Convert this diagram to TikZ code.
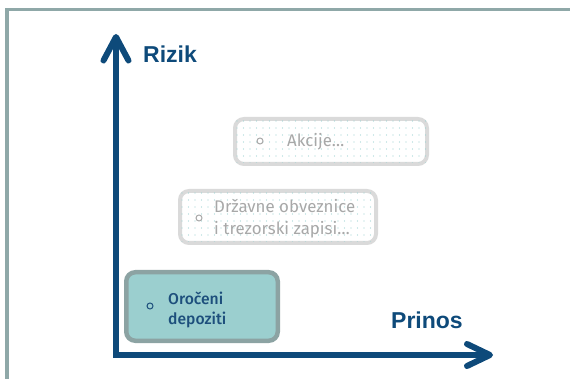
\documentclass[tikz,border=0pt]{standalone}
\usepackage{fontspec}
\usetikzlibrary{calc}
\newfontfamily\axfont{Liberation Sans}
\newfontfamily\boxreg{Fira Sans}
\IfFontExistsTF{Fira Sans Medium}{\newfontfamily\boxmed{Fira Sans Medium}}{\newfontfamily\boxmed{Fira Sans}[FakeBold=1]}
\newlength\tmpw
\definecolor{axisblue}{HTML}{0E4A7A}
\definecolor{framegrey}{HTML}{8FA8A8}
\definecolor{depfill}{HTML}{9BCFCF}
\definecolor{depborder}{HTML}{8CA3A3}
\definecolor{ghostborder}{HTML}{DADADA}
\definecolor{ghosttext}{HTML}{A8A8A8}
\definecolor{dotteal}{HTML}{9ED3D3}
\definecolor{deptext}{HTML}{1D4F7C}
\tikzset{
  depbox/.style={draw=depborder, fill=depfill, line width=4.5pt, rounded corners=9pt, minimum width=151.5pt, minimum height=68.5pt, inner sep=0},
  ghostbox/.style={draw=ghostborder, fill=white, line width=4pt, rounded corners=9pt, inner sep=0},
  bulletmark/.style={circle, minimum size=6pt, inner sep=0, line width=1pt},
  boxtext/.style={inner sep=0, align=left, anchor=base west},
  axisline/.style={draw=axisblue, line width=6pt},
  axislabel/.style={inner sep=0, anchor=base west, text=axisblue, font=\axfont\bfseries\fontsize{23}{27}\selectfont},
}
\AtBeginDocument{%
  \settowidth\tmpw{\boxreg\fontsize{10}{12}\selectfont Državne obveznice}%
  \pgfmathsetmacro\regsize{10*141/\tmpw}%
  \global\let\regsize\regsize
  \settowidth\tmpw{\boxmed\fontsize{10}{12}\selectfont Oročeni}%
  \pgfmathsetmacro\medsize{10*55/\tmpw}%
  \global\let\medsize\medsize
}
\begin{document}
\begin{tikzpicture}[x=1pt, y=-1pt]
\useasboundingbox (0,0) rectangle (570,379);
% frame
\draw[framegrey, line width=3.5pt] (7,379) |- (570,9.5);
% ghost boxes
\node[ghostbox, minimum width=192pt, minimum height=45pt] (akc) at (331,141.5) {};
\node[ghostbox, minimum width=196pt, minimum height=52pt] (drz) at (278,217) {};
\foreach \b/\nx/\ny in {akc/30/6, drz/31/7} {
  \begin{scope}
    \clip ([shift={(3,3)}]\b.north west) rectangle ([shift={(-3,-3)}]\b.south east);
    \foreach \i in {0,...,\nx} \foreach \j in {0,...,\ny}
      \fill[dotteal] ($(\b.north west)+(4+6.5*\i, 4+7*\j)$) circle (0.7pt);
  \end{scope}
}
% deposit box
\node[depbox] (dep) at (202,306.5) {};
% bullets
\node[bulletmark, draw=deptext] (depb) at (150,306) {};
\node[bulletmark, draw=ghosttext] (akcb) at (260,141) {};
\node[bulletmark, draw=ghosttext] (drzb) at (199,218) {};
% box texts
\node[boxtext, text=deptext, font=\boxmed\fontsize{\medsize}{20}\selectfont] (dept) at (168,324) {Oročeni\\depoziti};
\node[boxtext, text=ghosttext, font=\boxreg\fontsize{\regsize}{22}\selectfont] (akct) at (287,147) {Akcije…};
\node[boxtext, text=ghosttext, font=\boxreg\fontsize{\regsize}{22}\selectfont] (drzt) at (214,234.7) {Državne obveznice\\i trezorski zapisi…};
% axes
\coordinate (O) at (116,355);
\coordinate (ytip) at (116,37);
\coordinate (xtip) at (490,355);
\draw[axisline] (ytip) -- (O) -- (xtip);
\draw[axisline, line cap=round, line join=round] ($(ytip)+(-12.5,23.5)$) -- (ytip) -- ($(ytip)+(12.5,23.5)$);
\draw[axisline, line cap=round, line join=round] ($(xtip)+(-23,-11)$) -- (xtip) -- ($(xtip)+(-23,11)$);
% axis labels
\node[axislabel] (rizik) at (143,63) {Rizik};
\node[axislabel] (prinos) at (391,328) {Prinos};
\end{tikzpicture}
\end{document}
